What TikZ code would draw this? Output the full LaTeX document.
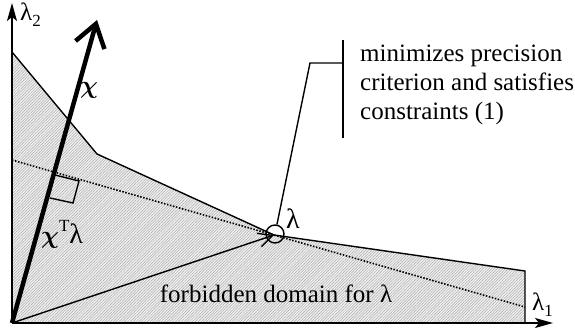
\documentclass[tikz,border=0pt]{standalone}
\usepackage{bm}
\usepackage{fontspec}
\setmainfont{Liberation Serif}
\usetikzlibrary{arrows.meta,patterns.meta}
\begin{document}
\begin{tikzpicture}[x=1pt,y=-1pt,
  lbl/.style={font=\fontsize{25}{29}\selectfont, inner sep=0pt},
  glbl/.style={font=\fontsize{28}{29}\selectfont, inner sep=0pt},
  edge/.style={line width=1.4pt},
  axis/.style={line width=1.4pt,-{Stealth[length=18pt,width=10pt,inset=4pt]}}]
\useasboundingbox (0,0) rectangle (575,336);
\coordinate (O) at (12,323);
\coordinate (P1) at (12,52);
\coordinate (P2) at (97,154);
\coordinate (L) at (274,235);
\coordinate (P4) at (525,271);
\coordinate (P5) at (525,323);
\coordinate (D1) at (12,160);
\coordinate (D2) at (525,307);
\coordinate (X) at (97,20);
\coordinate (YT) at (12,3);
\coordinate (XT) at (553,323);
\coordinate (C1) at (310,63);
\coordinate (C2) at (343,63);
\coordinate (B1) at (343,40);
\coordinate (B2) at (343,138);
\coordinate (S1) at (55,175);
\coordinate (S2) at (79,181);
\coordinate (S3) at (73,203);
\coordinate (S4) at (50,198);
% shaded domain
\fill[gray!12] (O) -- (P1) -- (P2) -- (L) -- (P4) -- (P5) -- cycle;
\fill[pattern={Lines[angle=45,distance=2pt,line width=0.5pt]}, pattern color=gray!65]
  (O) -- (P1) -- (P2) -- (L) -- (P4) -- (P5) -- cycle;
\draw[edge] (P1) -- (P2) -- (L) -- (P4) -- (P5);
% dotted line
\draw[line width=1.6pt, dash pattern=on 1.5pt off 1.6pt] (D1) -- (D2);
% axes
\draw[axis] (O) -- (YT);
\draw[axis] (O) -- (XT);
% right angle mark
\draw[edge] (S1) -- (S2) -- (S3) -- (S4);
% chi arrow
\draw[line width=4.5pt, -{Straight Barb[length=22pt,width=30pt]}] (O) -- (X);
% lambda circle and vector
\node[circle, draw, line width=1.4pt, minimum size=18pt, inner sep=0pt] (lam) at (275,234) {};
\draw[edge, -{Straight Barb[length=14pt,width=14pt]}] (O) -- (L);
% callout
\draw[edge] (lam) -- (C1) -- (C2);
\draw[edge] (B1) -- (B2);
% labels
\node[lbl, anchor=base west] (tl2) at (20,21) {λ\raisebox{-0.22em}{\fontsize{17}{17}\selectfont 2}};
\node[lbl, anchor=base west] (tl1) at (532,311) {λ\raisebox{-0.22em}{\fontsize{17}{17}\selectfont 1}};
\node[glbl, anchor=base west, font=\fontsize{34}{34}\selectfont] (tchi) at (80,94) {$\bm{\chi}$};
\node[glbl, anchor=base west] (tchil) at (41,244) {$\bm{\chi}$\raisebox{0.45em}{\fontsize{17}{17}\selectfont T}λ};
\node[glbl, anchor=base west] (tlam) at (286,229) {λ};
\node[lbl, anchor=base] (tforb) at (276,302) {forbidden domain for λ};
\node[lbl, anchor=north west, align=left] (tcall) at (360,45) {minimizes precision\\criterion and satisfies\\constraints (1)};
\end{tikzpicture}
\end{document}
